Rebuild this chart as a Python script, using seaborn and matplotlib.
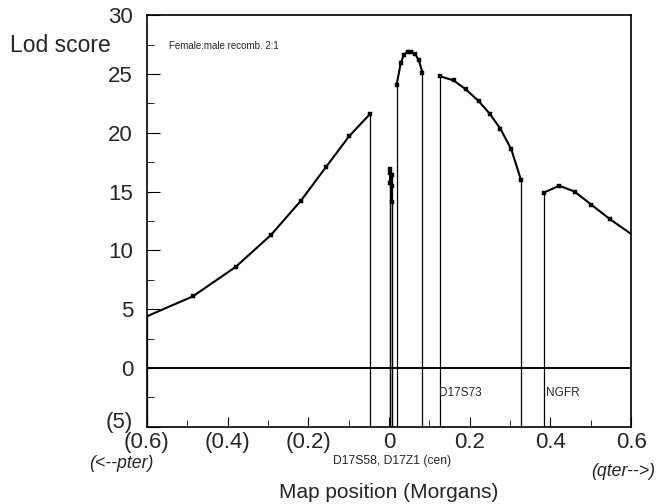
import matplotlib
matplotlib.use("Agg")
import matplotlib.pyplot as plt
import matplotlib.transforms as mtransforms
import numpy as np
import pandas as pd
import seaborn as sns

# LOD score segments (map position in Morgans, lod score)
seg1_x = [-0.600, -0.486, -0.380, -0.293, -0.219, -0.156, -0.099, -0.047]
seg1_y = [4.4, 6.1, 8.6, 11.3, 14.2, 17.1, 19.7, 21.6]
clus_a_x = [0.002, 0.003, 0.002]
clus_a_y = [16.9, 16.6, 15.7]
clus_b_x = [0.008, 0.008, 0.008]
clus_b_y = [16.4, 15.5, 14.1]
dome_x = [0.019, 0.029, 0.037, 0.046, 0.055, 0.065, 0.074, 0.083]
dome_y = [24.1, 25.9, 26.65, 26.9, 26.9, 26.7, 26.15, 25.1]
seg4_x = [0.127, 0.160, 0.190, 0.222, 0.250, 0.276, 0.303, 0.327]
seg4_y = [24.8, 24.45, 23.7, 22.7, 21.6, 20.35, 18.6, 16.0]
seg5_x = [0.383, 0.422, 0.460, 0.501, 0.548, 0.600]
seg5_y = [14.9, 15.5, 15.0, 13.9, 12.65, 11.4]

segments = [
    ("s1", seg1_x, seg1_y),
    ("ca", clus_a_x, clus_a_y),
    ("cb", clus_b_x, clus_b_y),
    ("dome", dome_x, dome_y),
    ("s4", seg4_x, seg4_y),
    ("s5", seg5_x, seg5_y),
]

x_ticks = [-0.6, -0.4, -0.2, 0.0, 0.2, 0.4, 0.6]
x_labels = ["(0.6)", "(0.4)", "(0.2)", "0", "0.2", "0.4", "0.6"]
y_ticks = [-5, 0, 5, 10, 15, 20, 25, 30]
y_labels = ["(5)", "0", "5", "10", "15", "20", "25", "30"]

df = pd.concat(
    [pd.DataFrame({"seg": name, "pos": xs, "lod": ys}) for name, xs, ys in segments],
    ignore_index=True,
)

sns.set_style("ticks")
plt.rcParams["font.family"] = ["Liberation Sans", "DejaVu Sans"]

fig = plt.figure(figsize=(6.56, 5.04), dpi=100)
ax = fig.add_axes([0.224, 0.153, 0.738, 0.817])

# vertical drop lines from each segment end to the bottom
for name, xs, ys in segments:
    ax.vlines([xs[0], xs[-1]], -5, [ys[0], ys[-1]], color="black", linewidth=0.9, zorder=2)

ax.axhline(0, color="black", linewidth=1.4, zorder=2)

sns.lineplot(data=df, x="pos", y="lod", units="seg", estimator=None, sort=False,
             color="black", linewidth=1.5, ax=ax, legend=False, zorder=3)
pts = df[df["pos"].abs() < 0.599]
sns.scatterplot(data=pts, x="pos", y="lod", color="black", marker="s", s=9,
                edgecolor="black", linewidth=0.3, ax=ax, legend=False, zorder=4)

ax.set_xlim(-0.6, 0.6)
ax.set_ylim(-5, 30)
ax.set_xticks(x_ticks)
ax.set_xticklabels(x_labels)
ax.set_yticks(y_ticks)
ax.set_yticklabels(y_labels)
ax.set_xticks(np.arange(-0.5, 0.6, 0.2), minor=True)
ax.set_yticks(np.arange(-2.5, 30, 5), minor=True)
ax.tick_params(axis="both", which="both", direction="in", labelsize=16, color="black")
ax.tick_params(axis="y", which="major", length=9, pad=10)
ax.tick_params(axis="y", which="minor", length=5)
ax.tick_params(axis="x", which="major", length=7, pad=4)
ax.tick_params(axis="x", which="minor", length=5)
for sp in ax.spines.values():
    sp.set_visible(True)
    sp.set_linewidth(1.2)
    sp.set_color("black")

# nudge the "(5)" label up so it sits just above "(0.6)"
lab5 = ax.get_yticklabels()[0]
lab5.set_transform(lab5.get_transform() + mtransforms.ScaledTranslation(0, 5 / 72, fig.dpi_scale_trans))

ax.set_xlabel("Map position (Morgans)", fontsize=15, labelpad=21)
ax.set_ylabel("")

fig.text(10 / 656, 1 - 45 / 504, "Lod score", fontsize=16.5, va="center", ha="left")
ax.text(-0.545, 27.4, "Female:male recomb. 2:1", fontsize=7, va="center", ha="left")
ax.text(0.125, -2.1, "D17S73", fontsize=8.5, va="center", ha="left")
ax.text(0.388, -2.1, "NGFR", fontsize=8.5, va="center", ha="left")
fig.text(392 / 656, 1 - 461 / 504, "D17S58, D17Z1 (cen)", fontsize=8.7, va="center", ha="center")
fig.text(121 / 656, 1 - 464 / 504, "(<--pter)", fontsize=12.8, style="italic", va="center", ha="center")
fig.text(623 / 656, 1 - 471 / 504, "(qter-->)", fontsize=12.8, style="italic", va="center", ha="center")

fig.savefig("out.png", dpi=100)
